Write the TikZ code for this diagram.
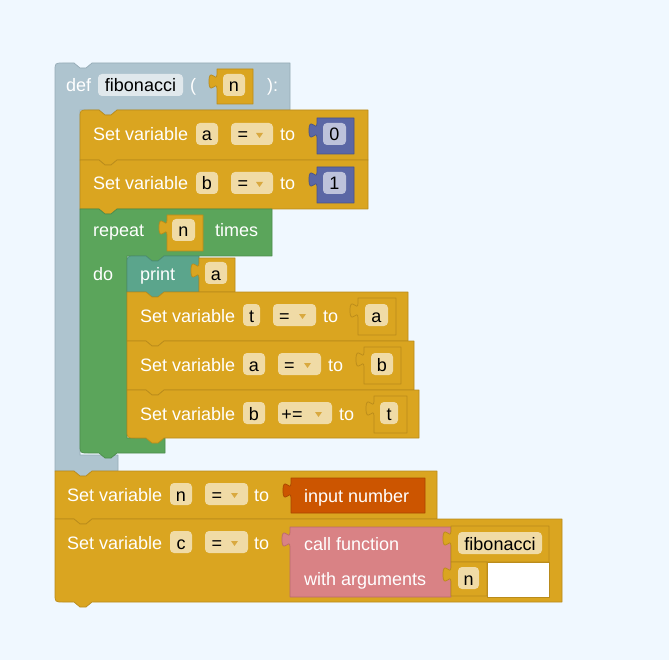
\documentclass[tikz,border=0pt]{standalone}
\usepackage{fontspec}
\setmainfont{Liberation Sans}
\definecolor{bg}{HTML}{F0F8FF}
\definecolor{gold}{HTML}{DAA520}
\definecolor{goldD}{HTML}{B98B1B}
\definecolor{goldF}{HTML}{F0DBA6}
\definecolor{defc}{HTML}{AEC4CF}
\definecolor{defD}{HTML}{95ABB6}
\definecolor{defF}{HTML}{E0E8EC}
\definecolor{loopc}{HTML}{5BA55B}
\definecolor{loopD}{HTML}{4C8C4C}
\definecolor{textc}{HTML}{5BA58C}
\definecolor{textD}{HTML}{4C8C76}
\definecolor{mathc}{HTML}{5B67A5}
\definecolor{mathD}{HTML}{48538A}
\definecolor{mathF}{HTML}{BDC2DB}
\definecolor{inpc}{HTML}{CC5500}
\definecolor{inpD}{HTML}{A84600}
\definecolor{procc}{HTML}{D98285}
\definecolor{procD}{HTML}{B86A6D}
\definecolor{tri}{HTML}{D9A940}
\newcommand\blkfont{\fontsize{18}{21}\selectfont}
% statement block: fill, draw, x1, y1, x2, y2, top-left radius, bottom-left radius
\newcommand\stmt[8]{%
\filldraw[fill=#1,draw=#2,blockline] (#3,#4+#7) .. controls (#3,#4) .. (#3+#7,#4) -- (#3+19,#4) -- (#3+25,#4+5) -- (#3+31,#4+5) -- (#3+37,#4) -- (#5,#4) -- (#5,#6) -- (#3+37,#6) -- (#3+31,#6+5) -- (#3+25,#6+5) -- (#3+19,#6) -- (#3+#8,#6) .. controls (#3,#6) .. (#3,#6-#8) -- cycle;}
% value block with output tab: fill, draw, x1, y1, x2, y2
\newcommand\valblk[6]{%
\filldraw[fill=#1,draw=#2,blockline] (#3,#4) -- (#5,#4) -- (#5,#6) -- (#3,#6) -- (#3,#4+20) .. controls (#3,#4+10) and (#3-8,#4+28) .. (#3-8,#4+12.5) .. controls (#3-8,#4-3) and (#3,#4+15) .. (#3,#4+5) -- cycle;}
% dropdown triangle: centre x, baseline
\newcommand\ddtri[2]{\fill[tri] (#1-3.5,#2-8) -- (#1+3.5,#2-8) -- (#1,#2-3) -- cycle;}
\tikzset{
 blockline/.style={line width=0.7pt, line join=round},
 lbl/.style={anchor=base west, inner sep=0pt, text=white, font=\blkfont},
 ftxt/.style={anchor=base, inner sep=0pt, text=black, font=\blkfont},
 fld/.style={rounded corners=4pt, inner sep=0pt, minimum height=22pt, text height=14pt, text depth=0pt, font=\blkfont, text=black},
 fy/.style={fld, fill=goldF},
 fb/.style={fld, fill=mathF},
 fd/.style={fld, fill=defF},
}
\begin{document}
\begin{tikzpicture}[x=1pt,y=-1pt]
\useasboundingbox (0,0) rectangle (669,660);
\fill[bg] (0,0) rectangle (669,660);

% ---- def block (C shape)
\filldraw[fill=defc,draw=defD,blockline] (55,71) .. controls (55,63) .. (63,63) -- (74,63) -- (80,68) -- (86,68) -- (92,63) -- (290,63) -- (290,110) -- (117,110) -- (111,115) -- (105,115) -- (99,110) -- (80,110) -- (80,455) -- (118,455) -- (118,471) -- (92,471) -- (86,476) -- (80,476) -- (74,471) -- (55,471) -- cycle;
\node[lbl] (tdef) at (66,92) {def};
\node[fd, minimum width=85pt] (ffib) at (140.5,85) {fibonacci};
\node[lbl] (tpar) at (190,92) {(};
\valblk{gold}{goldD}{217}{69}{253}{104}
\node[fy, minimum width=22pt] (fn0) at (234,85) {n};
\node[lbl] (tclose) at (267,92) {):};

% ---- set a = 0
\stmt{gold}{goldD}{80}{110}{368}{160}{8}{0}
\node[lbl] (sa) at (93,141) {Set variable};
\node[fy, minimum width=22pt] (fa1) at (207,134) {a};
\node[fy, minimum width=42pt] (dd1) at (252,134) {};
\node[ftxt] (dd1t) at (243,141) {=};
\ddtri{259.5}{141}
\node[lbl] (to1) at (280,141) {to};
\valblk{mathc}{mathD}{317}{118}{354}{154}
\node[fb, minimum width=23pt] (f0) at (334.5,134) {0};

% ---- set b = 1
\stmt{gold}{goldD}{80}{160}{368}{209}{0}{0}
\node[lbl] (sb) at (93,190) {Set variable};
\node[fy, minimum width=22pt] (fb1) at (207,183) {b};
\node[fy, minimum width=42pt] (dd2) at (252,183) {};
\node[ftxt] (dd2t) at (243,190) {=};
\ddtri{259.5}{190}
\node[lbl] (to2) at (280,190) {to};
\valblk{mathc}{mathD}{317}{167}{354}{203}
\node[fb, minimum width=23pt] (f1) at (334.5,183) {1};

% ---- repeat block (C shape)
\filldraw[fill=loopc,draw=loopD,blockline] (80,209) -- (99,209) -- (105,214) -- (111,214) -- (117,209) -- (272,209) -- (272,256) -- (164,256) -- (158,261) -- (152,261) -- (146,256) -- (127,256) -- (127,438) -- (165,438) -- (165,453) -- (117,453) -- (111,458) -- (105,458) -- (99,453) -- (88,453) .. controls (80,453) .. (80,445) -- cycle;
\node[lbl] (trep) at (93,237) {repeat};
\valblk{gold}{goldD}{167}{215}{203}{251}
\node[fy, minimum width=23pt] (fn1) at (183.5,230) {n};
\node[lbl] (ttimes) at (215,237) {times};
\node[lbl] (tdo) at (93,280) {do};

% ---- print a
\stmt{textc}{textD}{127}{256}{199}{292}{8}{0}
\node[lbl] (tprint) at (140,280) {print};
\valblk{gold}{goldD}{199}{258}{235}{292}
\node[fy, minimum width=22pt] (fa2) at (216,273) {a};

% ---- set t = a
\stmt{gold}{goldD}{127}{292}{408}{341}{0}{0}
\node[lbl] (st) at (140,322) {Set variable};
\node[fy, minimum width=17pt] (ft1) at (251.5,315) {t};
\node[fy, minimum width=43pt] (dd3) at (294.5,315) {};
\node[ftxt] (dd3t) at (284.5,322) {=};
\ddtri{302.5}{322}
\node[lbl] (to3) at (323,322) {to};
\valblk{gold}{goldD}{358}{298}{396}{335}
\node[fy, minimum width=23pt] (fa3) at (376.5,315) {a};

% ---- set a = b
\stmt{gold}{goldD}{127}{341}{414}{390}{0}{0}
\node[lbl] (sa2) at (140,371) {Set variable};
\node[fy, minimum width=22pt] (fa4) at (254,364) {a};
\node[fy, minimum width=43pt] (dd4) at (299.5,364) {};
\node[ftxt] (dd4t) at (289.5,371) {=};
\ddtri{307.5}{371}
\node[lbl] (to4) at (328,371) {to};
\valblk{gold}{goldD}{364}{347}{401}{384}
\node[fy, minimum width=22pt] (fb2) at (382,364) {b};

% ---- set b += t
\stmt{gold}{goldD}{127}{390}{419}{438}{0}{8}
\node[lbl] (sb2) at (140,420) {Set variable};
\node[fy, minimum width=22pt] (fb3) at (254,413) {b};
\node[fy, minimum width=54pt] (dd5) at (305,413) {};
\node[ftxt] (dd5t) at (292,420) {+=};
\ddtri{318.5}{420}
\node[lbl] (to5) at (339,420) {to};
\valblk{gold}{goldD}{374}{396}{407}{433}
\node[fy, minimum width=18pt] (ft2) at (389,413) {t};

% ---- set n = input number
\stmt{gold}{goldD}{55}{471}{437}{519}{0}{0}
\node[lbl] (sn) at (67,501) {Set variable};
\node[fy, minimum width=22pt] (fn2) at (181,494) {n};
\node[fy, minimum width=43pt] (dd6) at (226.5,494) {};
\node[ftxt] (dd6t) at (217,501) {=};
\ddtri{234.5}{501}
\node[lbl] (to6) at (254,501) {to};
\valblk{inpc}{inpD}{291}{478}{425}{513}
\node[lbl] (tinp) at (304,502) {input number};

% ---- set c = call fibonacci(n)
\stmt{gold}{goldD}{55}{519}{562}{602}{0}{8}
\node[lbl] (sc) at (67,549) {Set variable};
\node[fy, minimum width=22pt] (fc) at (181,542) {c};
\node[fy, minimum width=43pt] (dd7) at (226.5,542) {};
\node[ftxt] (dd7t) at (217,549) {=};
\ddtri{234.5}{549}
\node[lbl] (to7) at (254,549) {to};
\filldraw[fill=white,draw=goldD,blockline] (487,562) rectangle (549,597);
\valblk{procc}{procD}{290}{527}{451}{597}
\node[lbl] (tcall) at (304,550) {call function};
\node[lbl] (twith) at (304,585) {with arguments};
\valblk{gold}{goldD}{451}{526}{549}{562}
\node[fy, minimum width=84pt] (ffib2) at (500,543) {fibonacci};
\valblk{gold}{goldD}{451}{562}{487}{596}
\node[fy, minimum width=21pt] (fn3) at (468.5,578) {n};
\end{tikzpicture}
\end{document}
